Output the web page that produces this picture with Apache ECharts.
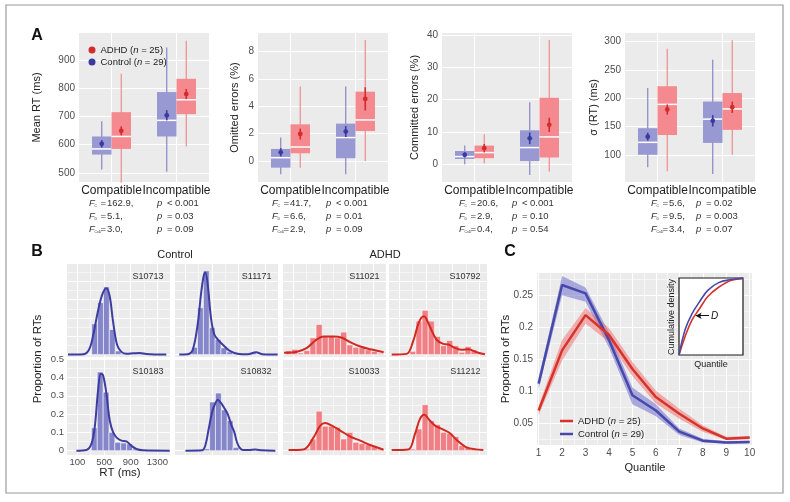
<!DOCTYPE html>
<html>
<head>
<meta charset="utf-8">
<script src="https://cdn.jsdelivr.net/npm/echarts@6.0.0/dist/echarts.min.js"></script>
<style>
  html, body { margin: 0; padding: 0; background: #fff; }
  #main { width: 790px; height: 502px; }
</style>
</head>
<body>
<div id="main"></div>
<script>
// ---------- 数据 (panel A: 箱线图) ----------
const categories = ['Compatible', 'Incompatible'];
// [whisker low, q1, median, q3, whisker high, mean, error]
const rtControl = [[512, 565, 585, 629, 683, 603, 13], [504, 629, 686, 786, 944, 704, 18]];
const rtAdhd = [[465, 585, 629, 715, 851, 649, 16], [594, 708, 759, 833, 968, 779, 18]];
const omitControl = [[-0.98, -0.49, 0.24, 0.88, 1.71, 0.63, 0.3], [-0.98, 0.2, 1.71, 2.73, 5.44, 2.15, 0.4]];
const omitAdhd = [[-0.49, 0.56, 1.02, 2.68, 5.44, 1.97, 0.4], [0, 2.19, 3.0, 5.07, 8.85, 4.54, 0.85]];
const commitControl = [[0, 1.63, 2.36, 4.1, 5.77, 2.9, 0.8], [-3.3, 1.0, 5.15, 10.5, 19.2, 8.0, 1.8]];
const commitAdhd = [[0.3, 1.86, 3.6, 5.77, 9.3, 4.95, 1.3], [-2.3, 2.05, 8.45, 20.6, 38.4, 12.2, 2.2]];
const sdControl = [[78, 100, 122, 147, 218, 132, 7], [66, 121, 163, 194, 268, 160, 10]];
const sdAdhd = [[71, 135, 189, 221, 287, 180, 9], [100, 144, 181, 209, 302, 184, 10]];

const rtTicks = [500, 600, 700, 800, 900];
const omitTicks = [0, 2, 4, 6, 8];
const commitTicks = [0, 10, 20, 30, 40];
const sdTicks = [100, 150, 200, 250, 300];

// F 统计量: [F, 比较符, p]
const effectNames = ['C', 'D', 'CxD'];
const statsRt = [['162.9', '<', '0.001'], ['5.1', '=', '0.03'], ['3.0', '=', '0.09']];
const statsOmit = [['41.7', '<', '0.001'], ['6.6', '=', '0.01'], ['2.9', '=', '0.09']];
const statsCommit = [['20.6', '<', '0.001'], ['2.9', '=', '0.10'], ['0.4', '=', '0.54']];
const statsSd = [['5.6', '=', '0.02'], ['9.5', '=', '0.003'], ['3.4', '=', '0.07']];

// ---------- 数据 (panel B: 直方图 + 密度) ----------
const ctrlBinWidth = 88;
const s10713Start = 315;
const s10713Bins = [0.168, 0.284, 0.37, 0.137, 0.02, 0.006, 0.004, 0.005, 0.006, 0.003];
const s10713Density = [[-41, 0], [184, 0.002], [274, 0.027], [334, 0.101], [409, 0.238], [475, 0.33], [535, 0.363], [584, 0.32], [634, 0.183], [694, 0.055], [760, 0.015], [835, 0.005], [934, 0.007], [1034, 0.009], [1134, 0.004], [1434, 0]];
const s11171Start = 194;
const s11171Bins = [0.04, 0.256, 0.458, 0.147, 0.082, 0.037, 0.015, 0.008, 0.004, 0.002, 0.01];
const s11171Density = [[8, 0], [134, 0.002], [210, 0.026], [284, 0.165], [334, 0.33], [374, 0.43], [399, 0.449], [434, 0.385], [484, 0.2], [534, 0.11], [609, 0.073], [684, 0.046], [759, 0.022], [884, 0.005], [1034, 0.002], [1159, 0.013], [1259, 0.002], [1484, 0]];
const s10183Start = 310;
const s10183Bins = [0.125, 0.43, 0.32, 0.1, 0.046, 0.042, 0.037, 0.009];
const s10183Density = [[85, 0], [235, 0.004], [310, 0.037], [360, 0.128], [410, 0.33], [450, 0.421], [485, 0.412], [535, 0.311], [585, 0.165], [635, 0.101], [685, 0.073], [760, 0.055], [835, 0.051], [910, 0.027], [985, 0.009], [1085, 0.002], [1485, 0]];
const s10832Start = 375;
const s10832Bins = [0.01, 0.266, 0.315, 0.223, 0.165, 0.018, 0.004];
const s10832Density = [[100, 0], [350, 0.002], [400, 0.03], [450, 0.12], [500, 0.21], [550, 0.26], [585, 0.278], [630, 0.262], [680, 0.235], [735, 0.2], [790, 0.14], [835, 0.1], [870, 0.05], [910, 0.018], [960, 0.004], [1050, 0.004], [1150, 0.006], [1250, 0.002], [1450, 0]];

const adhdBinStart = -20;
const adhdBinWidth = 92;
const s11021Bins = [0.022, 0.029, 0.009, 0.022, 0.092, 0.165, 0.099, 0.099, 0.092, 0.123, 0.053, 0.040, 0.037, 0.026, 0.018, 0.007];
const s11021Density = [[-40, 0.01], [154, 0.016], [304, 0.037], [429, 0.077], [554, 0.099], [704, 0.099], [829, 0.092], [954, 0.068], [1104, 0.044], [1254, 0.029], [1454, 0.013]];
const s10792Bins = [0, 0, 0, 0.018, 0.183, 0.242, 0.183, 0.099, 0.049, 0.077, 0.049, 0.013, 0.044, 0.026, 0.01, 0];
const s10792Density = [[-16, 0], [209, 0.004], [309, 0.077], [394, 0.178], [469, 0.209], [549, 0.159], [659, 0.081], [759, 0.059], [834, 0.055], [934, 0.037], [1034, 0.026], [1134, 0.029], [1259, 0.013], [1384, 0.002]];
const s10033Bins = [0, 0, 0, 0.009, 0.064, 0.216, 0.134, 0.134, 0.128, 0.064, 0.1, 0.046, 0.04, 0.033, 0.022, 0.009];
const s10033Density = [[28, 0.004], [253, 0.007], [403, 0.073], [503, 0.137], [578, 0.152], [678, 0.137], [803, 0.11], [953, 0.077], [1103, 0.055], [1253, 0.031], [1453, 0.005]];
const s11212Bins = [0, 0, 0, 0.009, 0.119, 0.251, 0.165, 0.143, 0.1, 0.095, 0.077, 0.027, 0.018, 0.009, 0, 0];
const s11212Density = [[-16, 0.004], [234, 0.007], [334, 0.092], [409, 0.174], [474, 0.196], [549, 0.168], [634, 0.137], [734, 0.119], [859, 0.095], [959, 0.059], [1109, 0.018], [1359, 0.004]];

const rtTickLabels = [100, 500, 900, 1300];
const propTickLabels = [0, 0.1, 0.2, 0.3, 0.4, 0.5];

// ---------- 数据 (panel C: 分位数) ----------
const quantiles = [1, 2, 3, 4, 5, 6, 7, 8, 9, 10];
const ctrlProp = [0.112, 0.266, 0.253, 0.180, 0.094, 0.070, 0.037, 0.023, 0.020, 0.021];
const ctrlLow = [0.104, 0.250, 0.240, 0.168, 0.080, 0.061, 0.032, 0.020, 0.018, 0.019];
const ctrlHigh = [0.120, 0.280, 0.262, 0.192, 0.106, 0.080, 0.042, 0.026, 0.022, 0.023];
const adhdProp = [0.070, 0.164, 0.219, 0.188, 0.135, 0.091, 0.065, 0.042, 0.026, 0.028];
const adhdLow = [0.063, 0.148, 0.206, 0.177, 0.124, 0.081, 0.057, 0.037, 0.024, 0.025];
const adhdHigh = [0.077, 0.180, 0.230, 0.199, 0.146, 0.101, 0.073, 0.047, 0.029, 0.030];
const quantTickLabels = [1, 2, 3, 4, 5, 6, 7, 8, 9, 10];
const quantPropLabels = [0.05, 0.1, 0.15, 0.2, 0.25];

// 小图: 累积分布
const insetQ = [0, 0.1, 0.2, 0.32, 0.45, 0.62, 0.82, 1];
const insetCtrl = [0, 0.34, 0.53, 0.69, 0.84, 0.94, 0.98, 1];
const insetAdhd = [0, 0.25, 0.45, 0.6, 0.76, 0.88, 0.97, 0.99];

// ---------- 样式 ----------
const FONT = '"Liberation Sans", Arial, Helvetica, sans-serif';
const PANEL_BG = '#EBEBEB';
const BLUE_BOX = '#9898D2', RED_BOX = '#F48A8F';
const BLUE_WHISK = '#8787C6', RED_WHISK = '#EF8C8E';
const BLUE_DARK = '#3B3B9E', RED_DARK = '#D42C2C';
const BLUE_BAR = '#8585CA', RED_BAR = '#EF7F84';
const BLUE_LINE = '#3D3DA0', RED_LINE = '#D02A20';
const TICK_COLOR = '#4D4D4D';

const grids = [], xAxes = [], yAxes = [], labelAxes = [], series = [], elements = [];

function addGrid(rect) {
  grids.push({ left: rect[0], top: rect[1], width: rect[2], height: rect[3] });
  elements.push({ type: 'rect', silent: true, z: -1,
    shape: { x: rect[0], y: rect[1], width: rect[2], height: rect[3] },
    style: { fill: PANEL_BG } });
  return grids.length - 1;
}

function valueAxis(gi, min, max, lines, labels, labelOpt, lineColors) {
  return {
    type: 'value', gridIndex: gi, min: min, max: max, position: 'bottom',
    axisLine: { show: false },
    axisTick: { show: false, customValues: lines },
    splitLine: { show: lines.length > 0, lineStyle: { color: lineColors || '#fff', width: 1 } },
    axisLabel: labels ? Object.assign({ show: true, customValues: labels, color: TICK_COLOR,
      fontSize: 10, fontFamily: FONT, margin: 4, hideOverlap: false,
      showMinLabel: true, showMaxLabel: true, formatter: v => String(v) }, labelOpt) : { show: false }
  };
}

function txt(x, y, text, style, extra) {
  elements.push(Object.assign({ type: 'text', x: x, y: y, z: 10, silent: true,
    style: Object.assign({ text: text, fontSize: 11, fontFamily: FONT, fill: '#222',
      align: 'center', verticalAlign: 'middle' }, style) }, extra));
}

function rotTxt(x, y, text, size) {
  txt(x, y, text, { fontSize: size }, { rotation: Math.PI / 2 });
}

// ---------- panel A ----------
function boxSeries(gi, name, rows, shift, fill, whisker, dark) {
  return {
    type: 'custom', name: name, xAxisIndex: gi, yAxisIndex: gi, silent: true,
    itemStyle: { color: dark },
    data: rows.map((r, i) => [i + 1].concat(r)),
    encode: { x: 0, y: [1, 5] },
    renderItem: function (params, api) {
      const x = api.value(0) + shift;
      const half = api.size([0.15, 0])[0];
      const pt = k => api.coord([x, api.value(k)]);
      const lo = pt(1), q1 = pt(2), med = pt(3), q3 = pt(4), hi = pt(5), mean = pt(6);
      const eLo = api.coord([x, api.value(6) - api.value(7)]);
      const eHi = api.coord([x, api.value(6) + api.value(7)]);
      return { type: 'group', children: [
        { type: 'line', shape: { x1: lo[0], y1: lo[1], x2: hi[0], y2: hi[1] }, style: { stroke: whisker, lineWidth: 1.2 } },
        { type: 'rect', shape: { x: q1[0] - half, y: q3[1], width: 2 * half, height: q1[1] - q3[1] }, style: { fill: fill } },
        { type: 'line', shape: { x1: med[0] - half, y1: med[1], x2: med[0] + half, y2: med[1] }, style: { stroke: '#fff', lineWidth: 1.5 } },
        { type: 'line', shape: { x1: eLo[0], y1: eLo[1], x2: eHi[0], y2: eHi[1] }, style: { stroke: dark, lineWidth: 1.6 } },
        { type: 'circle', shape: { cx: mean[0], cy: mean[1], r: 2.4 }, style: { fill: dark } }
      ] };
    }
  };
}

function boxPanel(rect, yMin, yMax, ticks, ctrl, adhd, title, titleX, stats, fx, px) {
  const gi = addGrid(rect);
  xAxes.push(valueAxis(gi, 0.5, 2.5, [1, 2], null));
  // 类别标签用一条只显示文字的类目轴
  labelAxes.push({
    type: 'category', gridIndex: gi, position: 'bottom', data: categories, boundaryGap: true,
    axisLine: { show: false }, axisTick: { show: false }, splitLine: { show: false },
    axisLabel: { interval: 0, fontSize: 12, color: '#222', fontFamily: FONT, margin: 3 }
  });
  yAxes.push(valueAxis(gi, yMin, yMax, ticks, ticks, {}));
  series.push(boxSeries(gi, 'Control', ctrl, -0.15, BLUE_BOX, BLUE_WHISK, BLUE_DARK));
  series.push(boxSeries(gi, 'ADHD', adhd, 0.15, RED_BOX, RED_WHISK, RED_DARK));
  rotTxt(titleX, rect[1] + rect[3] / 2, title, 11);
  const rowY = [203.5, 216.5, 229.5];
  stats.forEach((r, i) => {
    const y = rowY[i];
    const s = { fontSize: 9.5, align: 'left', fill: '#333' };
    txt(fx, y, 'F', Object.assign({}, s, { fontStyle: 'italic' }));
    txt(fx + 5.5, y + 2.5, effectNames[i], Object.assign({}, s, { fontSize: 3.5 }));
    txt(fx + 11.5, y, '=', s);
    txt(fx + 18, y, r[0] + ',', s);
    txt(px, y, 'p', Object.assign({}, s, { fontStyle: 'italic' }));
    txt(px + 10, y, r[1], s);
    txt(px + 18, y, r[2], s);
  });
}

boxPanel([79, 33, 130, 149], 468, 995, rtTicks, rtControl, rtAdhd, 'Mean RT (ms)', 37, statsRt, 89, 157);
boxPanel([258, 33, 130, 149], -1.54, 9.36, omitTicks, omitControl, omitAdhd, 'Omitted errors (%)', 235, statsOmit, 272, 326);
boxPanel([442, 33, 130, 149], -5.5, 40.6, commitTicks, commitControl, commitAdhd, 'Committed errors (%)', 415, statsCommit, 459, 512);
boxPanel([625, 33, 130, 149], 52, 315, sdTicks, sdControl, sdAdhd, 'σ (RT) (ms)', 594, statsSd, 651, 696);

// ---------- panel B ----------
const topRowY = [-0.013, 0.495];
const bottomRowY = [-0.0235, 0.501];
const msPerPx = 15;

function histPanel(rect, yr, start, width, bins, density, label, fill, line, withLabels) {
  const gi = addGrid(rect);
  const xMin = -56, xMax = -56 + rect[2] * msPerPx;
  const minorColors = ['#fff', '#F6F6F6'];
  xAxes.push(valueAxis(gi, xMin, xMax, [100, 300, 500, 700, 900, 1100, 1300],
    withLabels ? rtTickLabels : null, { fontSize: 9.5, margin: 2 }, minorColors));
  yAxes.push(valueAxis(gi, yr[0], yr[1], [0, 0.05, 0.1, 0.15, 0.2, 0.25, 0.3, 0.35, 0.4, 0.45, 0.5],
    withLabels ? propTickLabels : null, { fontSize: 9.5, margin: 3 }, minorColors));
  series.push({
    type: 'custom', xAxisIndex: gi, yAxisIndex: gi, silent: true,
    data: bins.map((h, i) => [start + i * width, start + (i + 1) * width, h]),
    encode: { x: [0, 1], y: 2 },
    renderItem: function (params, api) {
      if (api.value(2) <= 0) return null;
      const a = api.coord([api.value(0), api.value(2)]);
      const b = api.coord([api.value(1), 0]);
      return { type: 'rect', shape: { x: a[0], y: a[1], width: b[0] - a[0], height: b[1] - a[1] },
        style: { fill: fill, stroke: 'rgba(255,255,255,0.8)', lineWidth: 0.7 } };
    }
  });
  series.push({
    type: 'line', xAxisIndex: gi, yAxisIndex: gi, silent: true, data: density,
    smooth: 0.35, symbol: 'none', lineStyle: { color: line, width: 2 }
  });
  txt(rect[0] + rect[2] - 6.5, rect[1] + 12.5, label, { fontSize: 9, align: 'right', fill: '#333' });
}

histPanel([67, 264, 103, 93], topRowY, s10713Start, ctrlBinWidth, s10713Bins, s10713Density, 'S10713', BLUE_BAR, BLUE_LINE, false);
histPanel([175, 264, 103, 93], topRowY, s11171Start, ctrlBinWidth, s11171Bins, s11171Density, 'S11171', BLUE_BAR, BLUE_LINE, false);
histPanel([67, 359, 103, 96], bottomRowY, s10183Start, ctrlBinWidth, s10183Bins, s10183Density, 'S10183', BLUE_BAR, BLUE_LINE, true);
histPanel([175, 359, 103, 96], bottomRowY, s10832Start, ctrlBinWidth, s10832Bins, s10832Density, 'S10832', BLUE_BAR, BLUE_LINE, false);
histPanel([283, 264, 103, 93], topRowY, adhdBinStart, adhdBinWidth, s11021Bins, s11021Density, 'S11021', RED_BAR, RED_LINE, false);
histPanel([389, 264, 98, 93], topRowY, adhdBinStart, adhdBinWidth, s10792Bins, s10792Density, 'S10792', RED_BAR, RED_LINE, false);
histPanel([283, 359, 103, 96], bottomRowY, adhdBinStart, adhdBinWidth, s10033Bins, s10033Density, 'S10033', RED_BAR, RED_LINE, false);
histPanel([389, 359, 98, 96], bottomRowY, adhdBinStart, adhdBinWidth, s11212Bins, s11212Density, 'S11212', RED_BAR, RED_LINE, false);

txt(175, 255, 'Control', { fontSize: 11 });
txt(385, 255, 'ADHD', { fontSize: 11 });
rotTxt(38, 359, 'Proportion of RTs', 11.5);
txt(120, 473, 'RT (ms)', { fontSize: 11.5 });

// ---------- panel C ----------
const gC = addGrid([537, 273, 215, 172]);
xAxes.push(valueAxis(gC, 0.93, 10.1, [1, 1.5, 2, 2.5, 3, 3.5, 4, 4.5, 5, 5.5, 6, 6.5, 7, 7.5, 8, 8.5, 9, 9.5, 10],
  quantTickLabels, { fontSize: 10, margin: 3 }, ['#fff', '#F6F6F6']));
yAxes.push(valueAxis(gC, 0.0162, 0.2848, [0.025, 0.05, 0.075, 0.1, 0.125, 0.15, 0.175, 0.2, 0.225, 0.25, 0.275],
  quantPropLabels, { fontSize: 10, margin: 4 }, ['#F6F6F6', '#fff']));

// 置信带: 在最后一个数据项上把整条带画成一个多边形
function band(low, high, color) {
  series.push({
    type: 'custom', xAxisIndex: gC, yAxisIndex: gC, silent: true,
    data: quantiles.map((q, i) => [q, low[i], high[i]]),
    encode: { x: 0, y: [1, 2] },
    renderItem: function (params, api) {
      const n = params.dataInsideLength;
      if (params.dataIndexInside !== n - 1) return null;
      const upper = [], lower = [];
      for (let i = 0; i < n; i++) {
        upper.push(api.coord([api.value(0, i), api.value(2, i)]));
        lower.push(api.coord([api.value(0, i), api.value(1, i)]));
      }
      return { type: 'polygon', shape: { points: upper.concat(lower.reverse()) }, style: { fill: color } };
    }
  });
}
band(ctrlLow, ctrlHigh, 'rgba(112,112,205,0.55)');
band(adhdLow, adhdHigh, 'rgba(240,105,105,0.5)');
series.push({ type: 'line', name: 'Control', xAxisIndex: gC, yAxisIndex: gC, silent: true,
  data: quantiles.map((q, i) => [q, ctrlProp[i]]), symbol: 'none',
  itemStyle: { color: '#4848AA' }, lineStyle: { color: '#4848AA', width: 2.5 } });
series.push({ type: 'line', name: 'ADHD', xAxisIndex: gC, yAxisIndex: gC, silent: true,
  data: quantiles.map((q, i) => [q, adhdProp[i]]), symbol: 'none',
  itemStyle: { color: '#D6332A' }, lineStyle: { color: '#D6332A', width: 2.5 } });

rotTxt(506, 359, 'Proportion of RTs', 11.5);
txt(645, 468, 'Quantile', { fontSize: 11 });

// 小图
const inset = [679, 278, 64, 77];
const gI = grids.length;
grids.push({ left: inset[0], top: inset[1], width: inset[2], height: inset[3] });
elements.push({ type: 'rect', silent: true, z: 4,
  shape: { x: inset[0], y: inset[1], width: inset[2], height: inset[3] },
  style: { fill: '#fff', stroke: '#1a1a1a', lineWidth: 1.2 } });
xAxes.push(valueAxis(gI, 0, 1, [], null));
yAxes.push(valueAxis(gI, 0, 1, [], null));
series.push({ type: 'line', xAxisIndex: gI, yAxisIndex: gI, z: 5, silent: true, clip: false,
  data: insetQ.map((q, i) => [q, insetAdhd[i]]), smooth: 0.4, symbol: 'none',
  lineStyle: { color: '#D6332A', width: 1.6 } });
series.push({ type: 'line', xAxisIndex: gI, yAxisIndex: gI, z: 5, silent: true, clip: false,
  data: insetQ.map((q, i) => [q, insetCtrl[i]]), smooth: 0.4, symbol: 'none',
  lineStyle: { color: '#4848AA', width: 1.6 },
  markLine: { silent: true, symbol: ['none', 'arrow'], symbolSize: [5, 6], animation: false,
    lineStyle: { color: '#111', width: 1, type: 'solid' },
    label: { show: true, position: 'start', formatter: 'D', fontStyle: 'italic', fontSize: 10,
      fontFamily: FONT, color: '#111', distance: 2 },
    data: [[{ coord: [0.47, 0.51] }, { coord: [0.26, 0.51] }]] } });
rotTxt(672, 317, 'Cumulative density', 9);
txt(711, 365, 'Quantile', { fontSize: 9 });

// ---------- 标签 ----------
txt(37, 36, 'A', { fontSize: 16, fontWeight: 'bold', fill: '#111' });
txt(37, 252, 'B', { fontSize: 16, fontWeight: 'bold', fill: '#111' });
txt(510, 252, 'C', { fontSize: 16, fontWeight: 'bold', fill: '#111' });
elements.push({ type: 'rect', silent: true, z: -2, shape: { x: 6, y: 5, width: 777, height: 488 },
  style: { fill: 'none', stroke: '#9A9A9A', lineWidth: 1.2 } });

const legendText = { fontSize: 9.5, fontFamily: FONT, color: '#222',
  rich: { i: { fontSize: 9.5, fontFamily: FONT, fontStyle: 'italic', color: '#222' } } };
const legendFormatter = name => name === 'ADHD' ? 'ADHD ({i|n} = 25)' : 'Control ({i|n} = 29)';

let myChart = echarts.init(document.getElementById('main'));
let option = {
  animation: false,
  backgroundColor: '#fff',
  grid: grids,
  xAxis: xAxes.concat(labelAxes),
  yAxis: yAxes,
  legend: [
    { left: 83.5, top: 40, orient: 'vertical', icon: 'circle', itemWidth: 7, itemHeight: 7, itemGap: 2,
      selectedMode: false, formatter: legendFormatter, textStyle: legendText,
      data: [{ name: 'ADHD', itemStyle: { color: RED_DARK } }, { name: 'Control', itemStyle: { color: BLUE_DARK } }] },
    { left: 555, top: 411, orient: 'vertical', icon: 'rect', itemWidth: 13, itemHeight: 2.5, itemGap: 3,
      selectedMode: false, formatter: legendFormatter, textStyle: legendText,
      data: [{ name: 'ADHD', itemStyle: { color: '#D6332A' } }, { name: 'Control', itemStyle: { color: '#4848AA' } }] }
  ],
  series: series,
  graphic: { elements: elements }
};
myChart.setOption(option);
</script>
</body>
</html>
